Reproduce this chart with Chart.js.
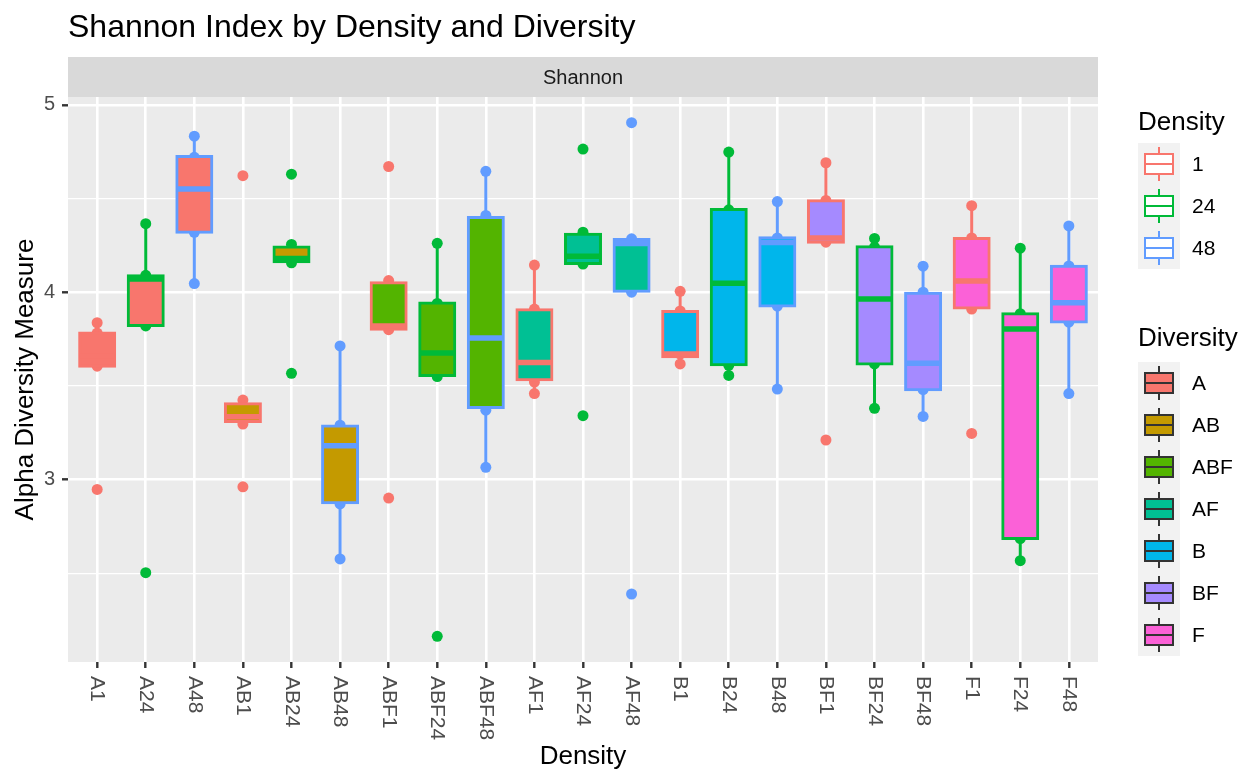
<!DOCTYPE html>
<html>
<head>
<meta charset="utf-8">
<script src="https://cdn.jsdelivr.net/npm/chart.js@4.4.0/dist/chart.umd.min.js"></script>
<style>
  html, body { margin: 0; padding: 0; background: #ffffff; }
  #wrap { position: relative; width: 1250px; height: 775px; font-family: "Liberation Sans", Arial, sans-serif; overflow: hidden; }
  #chart { position: absolute; left: 0; top: 0; }
  #title { position: absolute; left: 68px; top: 10px; font-size: 32px; line-height: 32px; color: #000; white-space: nowrap; }
  #strip { position: absolute; left: 68px; top: 57px; width: 1030px; height: 40px; line-height: 40px; text-align: center; font-size: 20px; color: #1A1A1A; }
  .ltitle { position: absolute; left: 1138px; font-size: 26px; line-height: 26px; color: #000; white-space: nowrap; }
  .lbg { position: absolute; left: 1138px; width: 42px; background: #F2F2F2; }
  .lkey { position: absolute; left: 0; width: 42px; height: 42px; }
  .wh { position: absolute; left: 20px; width: 2px; }
  .bx { position: absolute; left: 6px; top: 10px; width: 26px; height: 18px; border-style: solid; border-width: 2px; }
  .md { position: absolute; left: 6px; top: 20px; width: 30px; height: 2px; }
  .ltext { position: absolute; left: 1192px; font-size: 21px; line-height: 42px; height: 42px; color: #000; white-space: nowrap; }
</style>
</head>
<body>
<div id="wrap">
  <canvas id="chart" width="1250" height="775"></canvas>
  <div id="title">Shannon Index by Density and Diversity</div>
  <div id="strip">Shannon</div>
  <div id="legend"></div>
</div>
<script>
// ---------------- data ----------------
const categories = ['A1','A24','A48','AB1','AB24','AB48','ABF1','ABF24','ABF48','AF1','AF24','AF48','B1','B24','B48','BF1','BF24','BF48','F1','F24','F48'];
const diversityOf = ['A','A','A','AB','AB','AB','ABF','ABF','ABF','AF','AF','AF','B','B','B','BF','BF','BF','F','F','F'];
const densityOf = ['1','24','48','1','24','48','1','24','48','1','24','48','1','24','48','1','24','48','1','24','48'];

const densityLevels = ['1','24','48'];
const densityColors = ['#F8766D','#00BA38','#619CFF'];
const diversityLevels = ['A','AB','ABF','AF','B','BF','F'];
const diversityColors = ['#F8766D','#C49A00','#53B400','#00C094','#00B6EB','#A58AFF','#FB61D7'];

const q1          = [3.605, 3.822, 4.320, 3.310, 4.163, 2.876, 3.802, 3.556, 3.384, 3.532, 4.153, 4.005, 3.656, 3.613, 3.926, 4.267, 3.617, 3.479, 3.916, 2.685, 3.841];
const median      = [3.660, 4.070, 4.551, 3.335, 4.180, 3.181, 3.820, 3.676, 3.755, 3.625, 4.192, 4.260, 3.670, 4.048, 4.265, 4.290, 3.964, 3.621, 4.060, 3.804, 3.944];
const q3          = [3.782, 4.088, 4.724, 3.405, 4.241, 3.286, 4.050, 3.942, 4.399, 3.906, 4.310, 4.281, 3.897, 4.442, 4.291, 4.488, 4.243, 3.995, 4.287, 3.885, 4.139];
const whiskerLow  = [3.605, 3.822, 4.046, 3.296, 4.157, 2.576, 3.800, 3.550, 3.065, 3.459, 4.150, 4.000, 3.617, 3.556, 3.483, 4.267, 3.380, 3.337, 3.910, 2.567, 3.459];
const whiskerHigh = [3.837, 4.366, 4.833, 3.424, 4.255, 3.713, 4.062, 4.261, 4.645, 4.145, 4.320, 4.285, 4.005, 4.748, 4.484, 4.691, 4.287, 4.139, 4.462, 4.235, 4.354];

const samples = [
  [3.837, 3.782, 3.660, 3.605, 2.947],
  [4.366, 4.090, 4.070, 3.820, 2.503],
  [4.833, 4.720, 4.551, 4.320, 4.046],
  [4.622, 3.424, 3.335, 3.296, 2.961],
  [4.630, 4.255, 4.180, 4.157, 3.567],
  [3.713, 3.290, 3.181, 2.870, 2.576],
  [4.671, 4.062, 3.820, 3.800, 2.901],
  [4.261, 3.940, 3.676, 3.550, 2.163],
  [4.645, 4.410, 3.755, 3.370, 3.065],
  [4.145, 3.910, 3.625, 3.520, 3.459],
  [4.764, 4.320, 4.192, 4.150, 3.341],
  [4.905, 4.285, 4.260, 4.000, 2.389],
  [4.005, 3.900, 3.670, 3.617],
  [4.748, 4.440, 4.048, 3.610, 3.556],
  [4.484, 4.290, 4.265, 3.926, 3.483],
  [4.691, 4.490, 4.290, 4.267, 3.211],
  [4.287, 4.240, 3.964, 3.617, 3.380],
  [4.139, 4.000, 3.621, 3.480, 3.337],
  [4.462, 4.290, 4.060, 3.910, 3.246],
  [4.235, 3.885, 3.804, 2.685, 2.567],
  [4.354, 4.140, 3.944, 3.840, 3.459]
];

const yTickValues = [2.5, 3, 3.5, 4, 4.5, 5];
const yTickLabels = [3, 4, 5];
const yRange = [2.026, 5.042];

// ---------------- helpers ----------------
const densityColor = d => densityColors[densityLevels.indexOf(d)];
const diversityColor = d => diversityColors[diversityLevels.indexOf(d)];

const scatterData = [];
const scatterColors = [];
samples.forEach((vals, i) => {
  vals.forEach(v => {
    scatterData.push({ x: i, y: v });
    scatterColors.push(densityColor(densityOf[i]));
  });
});
const boxData = categories.map((c, i) => ({ x: i, y: [q1[i], q3[i]] }));

const FONT = '"Liberation Sans", Arial, sans-serif';

const boxPlugin = {
  id: 'boxExtras',
  beforeDraw(chart) {
    const { ctx, chartArea: a } = chart;
    ctx.save();
    ctx.fillStyle = '#EBEBEB';
    ctx.fillRect(a.left, a.top, a.right - a.left, a.bottom - a.top);
    ctx.fillStyle = '#D9D9D9';
    ctx.fillRect(a.left, 57, a.right - a.left, a.top - 57);
    ctx.restore();
  },
  beforeDatasetDraw(chart, args) {
    if (args.index !== 1) return;
    const { ctx } = chart;
    const y = chart.scales.y;
    const meta = chart.getDatasetMeta(1);
    ctx.save();
    ctx.lineWidth = 3;
    ctx.lineCap = 'butt';
    meta.data.forEach((el, i) => {
      ctx.strokeStyle = densityColor(densityOf[i]);
      ctx.beginPath();
      ctx.moveTo(el.x, y.getPixelForValue(q3[i]));
      ctx.lineTo(el.x, y.getPixelForValue(whiskerHigh[i]));
      ctx.moveTo(el.x, y.getPixelForValue(q1[i]));
      ctx.lineTo(el.x, y.getPixelForValue(whiskerLow[i]));
      ctx.stroke();
    });
    ctx.restore();
  },
  afterDatasetDraw(chart, args) {
    if (args.index !== 1) return;
    const { ctx } = chart;
    const y = chart.scales.y;
    const meta = chart.getDatasetMeta(1);
    ctx.save();
    ctx.lineWidth = 5.5;
    ctx.lineCap = 'butt';
    meta.data.forEach((el, i) => {
      const half = el.width / 2;
      const ym = y.getPixelForValue(median[i]);
      ctx.strokeStyle = densityColor(densityOf[i]);
      ctx.beginPath();
      ctx.moveTo(el.x - half, ym);
      ctx.lineTo(el.x + half, ym);
      ctx.stroke();
    });
    ctx.restore();
  },
  afterDraw(chart) {
    const { ctx, chartArea: a } = chart;
    const x = chart.scales.x;
    ctx.save();
    ctx.fillStyle = '#4D4D4D';
    ctx.font = '21px ' + FONT;
    ctx.textAlign = 'left';
    ctx.textBaseline = 'middle';
    categories.forEach((lab, i) => {
      ctx.save();
      ctx.translate(x.getPixelForValue(i), a.bottom + 14);
      ctx.rotate(Math.PI / 2);
      ctx.fillText(lab, 0, 0);
      ctx.restore();
    });
    ctx.restore();
  }
};

new Chart(document.getElementById('chart').getContext('2d'), {
  type: 'bar',
  data: {
    datasets: [
      {
        type: 'scatter',
        data: scatterData,
        pointBackgroundColor: scatterColors,
        pointBorderWidth: 0,
        pointRadius: 5.5,
        order: 2
      },
      {
        type: 'bar',
        data: boxData,
        backgroundColor: categories.map((c, i) => diversityColor(diversityOf[i])),
        borderColor: categories.map((c, i) => densityColor(densityOf[i])),
        borderWidth: 3,
        borderSkipped: false,
        inflateAmount: 1.5,
        barPercentage: 0.72,
        categoryPercentage: 1,
        order: 1
      }
    ]
  },
  options: {
    responsive: false,
    animation: false,
    devicePixelRatio: 1,
    events: [],
    layout: { padding: { top: 97, right: 152, left: 0, bottom: 0 } },
    plugins: { legend: { display: false }, tooltip: { enabled: false }, title: { display: false } },
    scales: {
      x: {
        type: 'linear',
        offset: false,
        min: -0.6,
        max: 20.6,
        afterBuildTicks: s => { s.ticks = categories.map((c, i) => ({ value: i })); },
        afterFit: s => { s.height = 113; },
        ticks: { display: false },
        grid: { offset: false, color: '#FFFFFF', lineWidth: 2.6, tickLength: 6, tickColor: '#333333', tickWidth: 2.4 },
        border: { display: false },
        title: { display: true, text: 'Density', font: { family: FONT, size: 26 }, color: '#000000', padding: { top: 0, bottom: 3 } }
      },
      y: {
        type: 'linear',
        min: yRange[0],
        max: yRange[1],
        afterBuildTicks: s => { s.ticks = yTickValues.map(v => ({ value: v })); },
        afterFit: s => { s.width = 68; },
        ticks: {
          autoSkip: false,
          padding: 7,
          color: '#4D4D4D',
          font: { family: FONT, size: 20 },
          callback: v => (yTickLabels.includes(v) ? String(v) : '')
        },
        grid: {
          color: '#FFFFFF',
          lineWidth: c => (yTickLabels.includes(c.tick.value) ? 2.6 : 1.3),
          tickLength: 6,
          tickColor: c => (yTickLabels.includes(c.tick.value) ? '#333333' : 'rgba(0,0,0,0)'),
          tickWidth: 2.4
        },
        border: { display: false },
        title: { display: true, text: 'Alpha Diversity Measure', font: { family: FONT, size: 26 }, color: '#000000', padding: { top: 10, bottom: 0 } }
      }
    }
  },
  plugins: [boxPlugin]
});

// ---------------- legend (HTML) ----------------
const legend = document.getElementById('legend');
function addLegend(title, titleTop, bgTop, levels, colors, filled) {
  const t = document.createElement('div');
  t.className = 'ltitle';
  t.style.top = titleTop + 'px';
  t.textContent = title;
  legend.appendChild(t);
  const bg = document.createElement('div');
  bg.className = 'lbg';
  bg.style.top = bgTop + 'px';
  bg.style.height = (levels.length * 42) + 'px';
  legend.appendChild(bg);
  levels.forEach((lv, k) => {
    const line = filled ? '#333333' : colors[k];
    const key = document.createElement('div');
    key.className = 'lkey';
    key.style.top = (k * 42) + 'px';
    key.innerHTML =
      '<div class="wh" style="top:4px;height:7px;background:' + line + '"></div>' +
      '<div class="wh" style="top:31px;height:7px;background:' + line + '"></div>' +
      '<div class="bx" style="border-color:' + line + ';background:' + (filled ? colors[k] : '#FFFFFF') + '"></div>' +
      '<div class="md" style="background:' + line + '"></div>';
    bg.appendChild(key);
    const lt = document.createElement('div');
    lt.className = 'ltext';
    lt.style.top = (bgTop + k * 42) + 'px';
    lt.textContent = lv;
    legend.appendChild(lt);
  });
}
addLegend('Density', 108, 143, densityLevels, densityColors, false);
addLegend('Diversity', 324, 362, diversityLevels, diversityColors, true);
</script>
</body>
</html>
